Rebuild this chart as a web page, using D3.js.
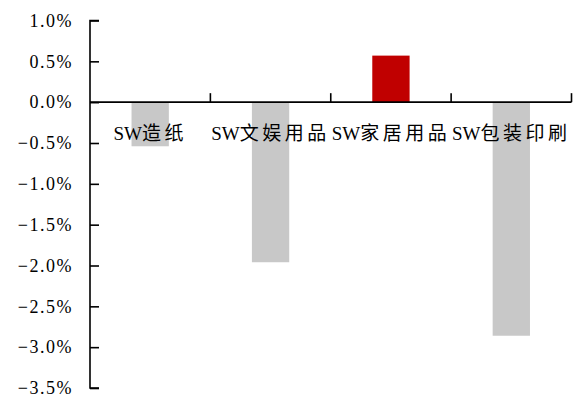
<!DOCTYPE html>
<html>
<head>
<meta charset="utf-8">
<script src="https://cdn.jsdelivr.net/npm/d3@7"></script>
<style>
  body { margin: 0; background: #fff; }
  svg { display: block; }
</style>
</head>
<body>
<script>
var width = 579;
var height = 398;

var categories = ["SW造纸", "SW文娱用品", "SW家居用品", "SW包装印刷"];
var values = [-0.54, -1.96, 0.57, -2.86];   // %
var barColors = ["#c8c8c8", "#c8c8c8", "#c00000", "#c8c8c8"];
var yTicks = [1.0, 0.5, 0.0, -0.5, -1.0, -1.5, -2.0, -2.5, -3.0, -3.5];

var marge = {top: 20.5, bottom: 10, left: 90, right: 7.5};

var svg = d3.select("body")
    .append("svg")
    .attr("width", width)
    .attr("height", height);

var x = d3.scaleBand()
    .domain(categories)
    .range([marge.left, width - marge.right])
    .paddingInner(0.69)
    .paddingOuter(0.345);

var y = d3.scaleLinear()
    .domain([-3.5, 1.0])
    .range([388, marge.top]);

var fmt = function(d){
    return d3.format(".1f")(d) + "%";
};

// bars
svg.append("g")
    .selectAll("rect")
    .data(values)
    .enter()
    .append("rect")
    .attr("x", function(d, i){ return x(categories[i]); })
    .attr("width", x.bandwidth())
    .attr("y", function(d){ return y(Math.max(0, d)); })
    .attr("height", function(d){ return Math.abs(y(d) - y(0)); })
    .attr("fill", function(d, i){ return barColors[i]; });

// y axis
var yAxis = d3.axisLeft(y)
    .tickValues(yTicks)
    .tickSize(-9)
    .tickPadding(17)
    .tickFormat(fmt);

var gy = svg.append("g")
    .attr("transform", "translate(" + marge.left + ",0)")
    .call(yAxis);

gy.select(".domain")
    .attr("d", "M9," + y(1.0) + "H0V" + y(-3.5) + "H9")
    .attr("stroke", "#000")
    .attr("stroke-width", 1.6);
gy.selectAll(".tick line")
    .attr("stroke", "#000")
    .attr("stroke-width", 1.6);
gy.selectAll(".tick text")
    .attr("fill", "#000")
    .style("font-family", "'Liberation Serif', 'Noto Sans CJK SC', serif")
    .style("font-size", "18px")
    .style("letter-spacing", "1.5px");

// zero line + category ticks
var xAxis = d3.axisTop(x).tickSize(0).tickFormat("");
var gx = svg.append("g")
    .attr("transform", "translate(0," + y(0) + ")")
    .call(xAxis);
gx.select(".domain")
    .attr("d", "M" + marge.left + ",0H" + (width - marge.right))
    .attr("stroke", "#000")
    .attr("stroke-width", 1.6);
gx.selectAll(".tick").remove();

var step = x.step();
var boundaries = categories.map(function(c){ return x(c) + x.bandwidth() / 2 + step / 2; });
gx.selectAll(".btick")
    .data(boundaries)
    .enter()
    .append("line")
    .attr("x1", function(d){ return d; })
    .attr("x2", function(d){ return d; })
    .attr("y1", 0)
    .attr("y2", -9)
    .attr("stroke", "#000")
    .attr("stroke-width", 1.6);

// category labels
var labels = svg.append("g")
    .selectAll("text")
    .data(categories)
    .enter()
    .append("text")
    .attr("x", function(d){ return x(d) + x.bandwidth() / 2; })
    .attr("y", y(0) + 38)
    .attr("text-anchor", "middle")
    .style("font-family", "'Liberation Serif', 'Noto Sans CJK SC', serif")
    .style("font-size", "19px")
    .attr("fill", "#000");

labels.append("tspan")
    .text(function(d){ return d.slice(0, 2); });
labels.append("tspan")
    .style("letter-spacing", "3.5px")
    .text(function(d){ return d.slice(2); });
</script>
</body>
</html>
